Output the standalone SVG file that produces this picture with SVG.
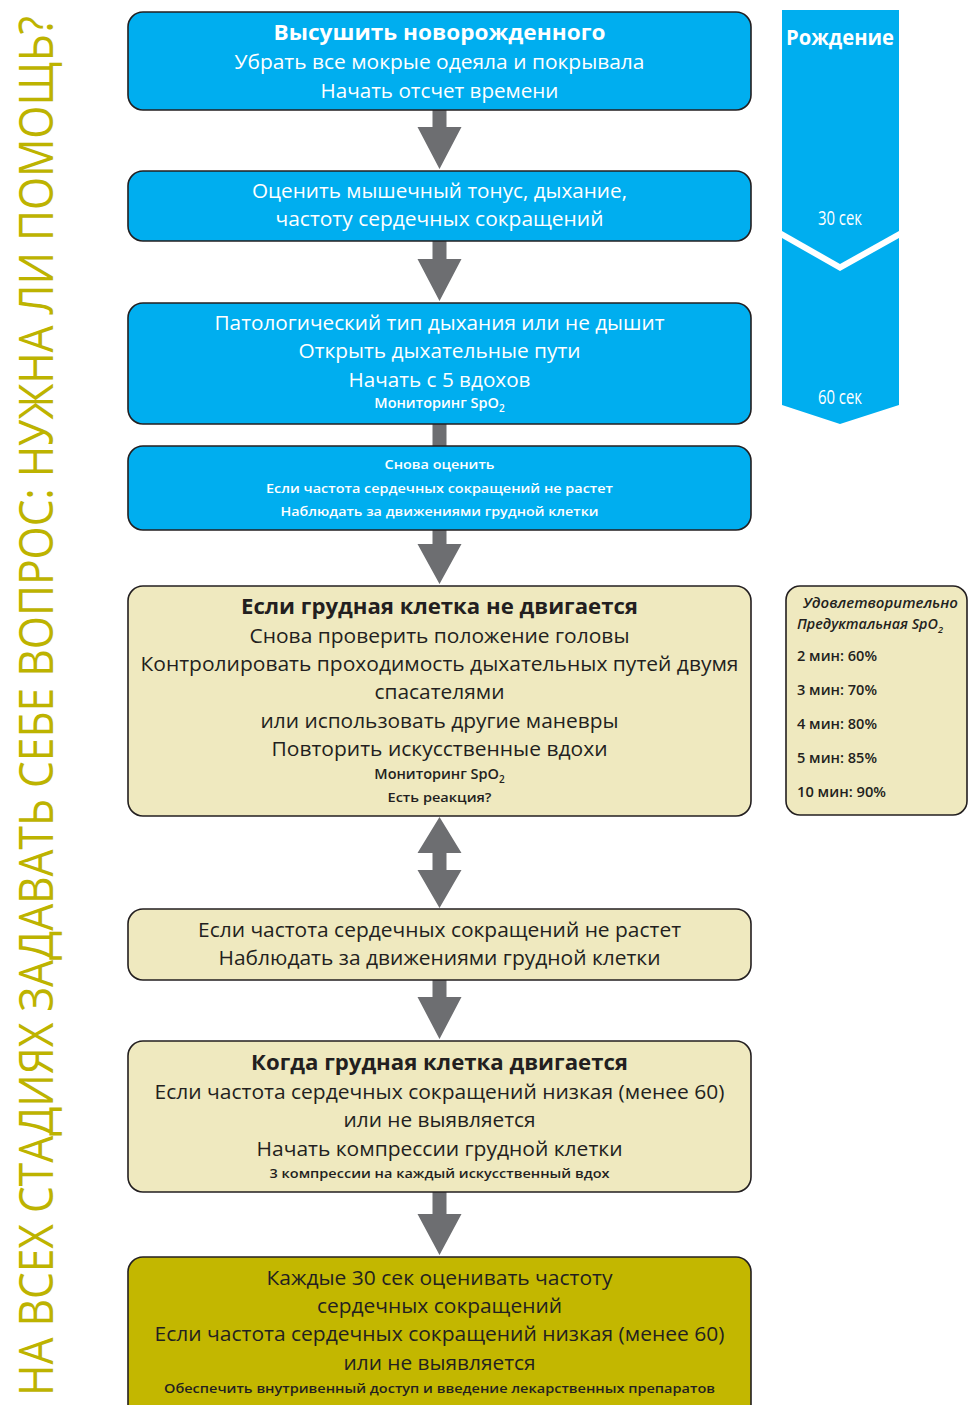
<svg xmlns="http://www.w3.org/2000/svg" width="968" height="1405" viewBox="0 0 968 1405">
<style>
.box{stroke:#231f20;stroke-width:1.6}
.blue{fill:#00aeef}
.pale{fill:#efe9bf}
.olive{fill:#c3b700}
.t{font-family:"Open Sans","Liberation Sans",sans-serif;font-size:19.5px;text-anchor:middle}
.b{font-weight:700;font-size:20.5px}
.s{font-size:13px;font-weight:600}
.m{font-size:14.5px;font-weight:600}
.w{fill:#ffffff}
.k{fill:#231f20}
.arr{fill:#6d6e71}
.side{font-family:"Open Sans","Liberation Sans",sans-serif;font-size:14px;fill:#231f20;font-weight:600}
</style>
<rect width="968" height="1405" fill="#ffffff"/>

<g id="side-title">
<text transform="translate(53,1396) rotate(-90)" x="0" y="0" font-family="Open Sans, Liberation Sans, sans-serif" font-size="47" fill="#bdb300" textLength="1380" lengthAdjust="spacingAndGlyphs">НА ВСЕХ СТАДИЯХ ЗАДАВАТЬ СЕБЕ ВОПРОС: НУЖНА ЛИ ПОМОЩЬ?</text>
</g>

<g id="connectors">
<polygon class="arr" points="432.5,110 446.5,110 446.5,127 461.5,127 439.5,169 417.5,127 432.5,127"/>
<polygon class="arr" points="432.5,241 446.5,241 446.5,259 461.5,259 439.5,301 417.5,259 432.5,259"/>
<rect class="arr" x="432.5" y="424" width="14" height="22"/>
<polygon class="arr" points="432.5,530 446.5,530 446.5,544 461.5,544 439.5,584 417.5,544 432.5,544"/>
<polygon class="arr" points="439.5,817 461.5,853 446.5,853 446.5,870 461.5,870 439.5,908 417.5,870 432.5,870 432.5,853 417.5,853"/>
<polygon class="arr" points="432.5,980 446.5,980 446.5,997 461.5,997 439.5,1039 417.5,997 432.5,997"/>
<polygon class="arr" points="432.5,1192 446.5,1192 446.5,1214 461.5,1214 439.5,1255 417.5,1214 432.5,1214"/>
</g>

<g id="timeline">
<polygon class="blue" points="782,10 899,10 899,231 840,264 782,231"/>
<polygon class="blue" points="782,238 840,271 899,238 899,405 840,424 782,405"/>
<text x="840" y="45" class="t w b" font-size="20" textLength="108" lengthAdjust="spacingAndGlyphs">Рождение</text>
<text x="840" y="225" class="t w" font-size="13" textLength="44" lengthAdjust="spacingAndGlyphs">30 сек</text>
<text x="840" y="404" class="t w" font-size="13" textLength="44" lengthAdjust="spacingAndGlyphs">60 сек</text>
</g>

<g id="spo2-table">
<rect class="box pale" x="786" y="586" width="181" height="229" rx="14"/>
<text x="803" y="608" class="side" font-style="italic" font-weight="400" textLength="155" lengthAdjust="spacingAndGlyphs">Удовлетворительно</text>
<text x="797" y="629" class="side" font-style="italic" font-weight="400" textLength="146" lengthAdjust="spacingAndGlyphs">Предуктальная SpO<tspan font-size="9" dy="4">2</tspan></text>
<text x="797" y="661" class="side" textLength="80" lengthAdjust="spacingAndGlyphs">2 мин: 60%</text>
<text x="797" y="695" class="side" textLength="80" lengthAdjust="spacingAndGlyphs">3 мин: 70%</text>
<text x="797" y="729" class="side" textLength="80" lengthAdjust="spacingAndGlyphs">4 мин: 80%</text>
<text x="797" y="763" class="side" textLength="80" lengthAdjust="spacingAndGlyphs">5 мин: 85%</text>
<text x="797" y="797" class="side" textLength="89" lengthAdjust="spacingAndGlyphs">10 мин: 90%</text>
</g>

<g id="node-dry">
<rect class="box blue" x="128" y="12" width="623" height="98" rx="15"/>
<text x="439.5" y="40" class="t w b" textLength="332" lengthAdjust="spacingAndGlyphs">Высушить новорожденного</text>
<text x="439.5" y="69" class="t w" textLength="410" lengthAdjust="spacingAndGlyphs">Убрать все мокрые одеяла и покрывала</text>
<text x="439.5" y="98" class="t w" textLength="238" lengthAdjust="spacingAndGlyphs">Начать отсчет времени</text>
</g>

<g id="node-assess">
<rect class="box blue" x="128" y="171" width="623" height="70" rx="15"/>
<text x="439.5" y="198" class="t w" textLength="375" lengthAdjust="spacingAndGlyphs">Оценить мышечный тонус, дыхание,</text>
<text x="439.5" y="226" class="t w" textLength="328" lengthAdjust="spacingAndGlyphs">частоту сердечных сокращений</text>
</g>

<g id="node-breaths">
<rect class="box blue" x="128" y="303" width="623" height="121" rx="15"/>
<text x="439.5" y="330" class="t w" textLength="450" lengthAdjust="spacingAndGlyphs">Патологический тип дыхания или не дышит</text>
<text x="439.5" y="358" class="t w" textLength="282" lengthAdjust="spacingAndGlyphs">Открыть дыхательные пути</text>
<text x="439.5" y="387" class="t w" textLength="182" lengthAdjust="spacingAndGlyphs">Начать с 5 вдохов</text>
<text x="439.5" y="408" class="t w m">Мониторинг SpO<tspan font-size="10" dy="4">2</tspan></text>
</g>

<g id="node-reassess">
<rect class="box blue" x="128" y="446" width="623" height="84" rx="15"/>
<text x="439.5" y="469" class="t w s" textLength="110" lengthAdjust="spacingAndGlyphs">Снова оценить</text>
<text x="439.5" y="493" class="t w s" textLength="347" lengthAdjust="spacingAndGlyphs">Если частота сердечных сокращений не растет</text>
<text x="439.5" y="516" class="t w s" textLength="318" lengthAdjust="spacingAndGlyphs">Наблюдать за движениями грудной клетки</text>
</g>

<g id="node-chest-not-moving">
<rect class="box pale" x="128" y="586" width="623" height="230" rx="15"/>
<text x="439.5" y="614" class="t k b" textLength="397" lengthAdjust="spacingAndGlyphs">Если грудная клетка не двигается</text>
<text x="439.5" y="643" class="t k" textLength="380" lengthAdjust="spacingAndGlyphs">Снова проверить положение головы</text>
<text x="439.5" y="671" class="t k" textLength="598" lengthAdjust="spacingAndGlyphs">Контролировать проходимость дыхательных путей двумя</text>
<text x="439.5" y="699" class="t k" textLength="130" lengthAdjust="spacingAndGlyphs">спасателями</text>
<text x="439.5" y="728" class="t k" textLength="358" lengthAdjust="spacingAndGlyphs">или использовать другие маневры</text>
<text x="439.5" y="756" class="t k" textLength="336" lengthAdjust="spacingAndGlyphs">Повторить искусственные вдохи</text>
<text x="439.5" y="779" class="t k m">Мониторинг SpO<tspan font-size="10" dy="4">2</tspan></text>
<text x="439.5" y="802" class="t k s" textLength="104" lengthAdjust="spacingAndGlyphs">Есть реакция?</text>
</g>

<g id="node-hr-not-rising">
<rect class="box pale" x="128" y="909" width="623" height="71" rx="15"/>
<text x="439.5" y="937" class="t k" textLength="483" lengthAdjust="spacingAndGlyphs">Если частота сердечных сокращений не растет</text>
<text x="439.5" y="965" class="t k" textLength="442" lengthAdjust="spacingAndGlyphs">Наблюдать за движениями грудной клетки</text>
</g>

<g id="node-chest-moving">
<rect class="box pale" x="128" y="1041" width="623" height="151" rx="15"/>
<text x="439.5" y="1070" class="t k b" textLength="377" lengthAdjust="spacingAndGlyphs">Когда грудная клетка двигается</text>
<text x="439.5" y="1099" class="t k" textLength="570" lengthAdjust="spacingAndGlyphs">Если частота сердечных сокращений низкая (менее 60)</text>
<text x="439.5" y="1127" class="t k" textLength="192" lengthAdjust="spacingAndGlyphs">или не выявляется</text>
<text x="439.5" y="1156" class="t k" textLength="366" lengthAdjust="spacingAndGlyphs">Начать компрессии грудной клетки</text>
<text x="439.5" y="1178" class="t k s" textLength="340" lengthAdjust="spacingAndGlyphs">3 компрессии на каждый искусственный вдох</text>
</g>

<g id="node-every-30s">
<rect class="box olive" x="128" y="1257" width="623" height="165" rx="15"/>
<text x="439.5" y="1285" class="t k" textLength="346" lengthAdjust="spacingAndGlyphs">Каждые 30 сек оценивать частоту</text>
<text x="439.5" y="1313" class="t k" textLength="245" lengthAdjust="spacingAndGlyphs">сердечных сокращений</text>
<text x="439.5" y="1341" class="t k" textLength="570" lengthAdjust="spacingAndGlyphs">Если частота сердечных сокращений низкая (менее 60)</text>
<text x="439.5" y="1370" class="t k" textLength="192" lengthAdjust="spacingAndGlyphs">или не выявляется</text>
<text x="439.5" y="1393" class="t k s" textLength="551" lengthAdjust="spacingAndGlyphs">Обеспечить внутривенный доступ и введение лекарственных препаратов</text>
</g>
</svg>
